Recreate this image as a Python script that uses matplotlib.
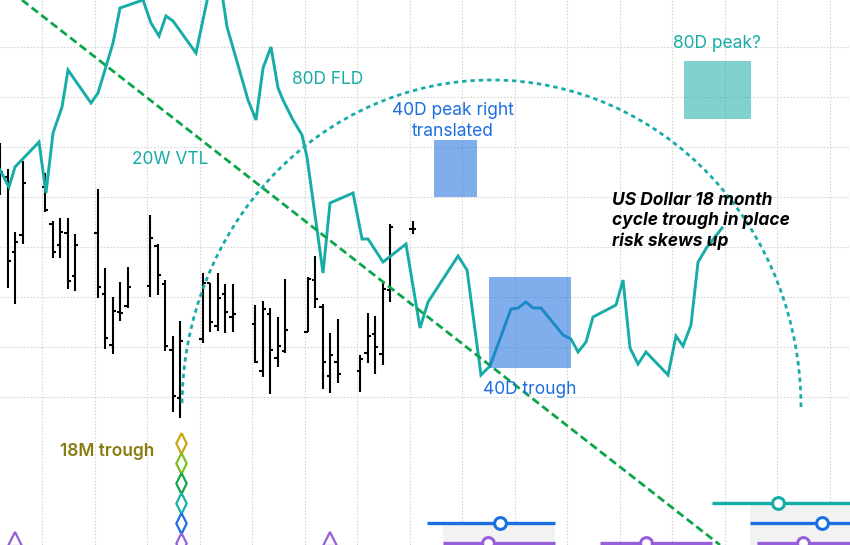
import numpy as np
import matplotlib
matplotlib.use("Agg")
import matplotlib.pyplot as plt
from matplotlib.patches import Arc, Rectangle

plt.rcParams['font.family'] = ['Inter', 'DejaVu Sans']

# --- daily OHLC bars (x = calendar day index) ---
bar_day = [0, 1, 2, 3, 6, 7, 8, 9, 10, 13, 14, 15, 16, 17, 20, 21, 22, 23, 24,
           27, 28, 29, 30, 31, 34, 35, 36, 37, 38, 41, 42, 43, 44, 45, 48, 49, 50, 51, 52, 55]
bar_open = [100.27, 100.20, 99.45, 99.62, 100.10, 99.73, 99.52, 99.64, 99.21, 99.64, 99.03, 98.52, 98.85, 98.91,
            99.11, 99.51, 99.13, 98.47, 97.99, 98.58, 99.14, 98.71, 99.03, 98.80, 98.73, 98.26, 98.83, 98.39,
            98.46, 98.65, 99.17, 98.90, 98.21, 98.35, 98.26, 98.44, 98.63, 98.43, 99.07, 99.68]
bar_high = [100.54, 100.28, 99.65, 100.36, 100.24, 99.76, 99.79, 99.79, 99.63, 100.08, 99.29, 99.00, 99.15, 99.30,
            99.82, 99.53, 99.17, 98.61, 98.76, 99.24, 99.14, 99.24, 99.13, 99.13, 98.92, 98.96, 98.89, 98.80,
            99.18, 99.20, 99.41, 98.93, 98.64, 98.78, 98.42, 98.84, 98.81, 99.14, 99.73, 99.76]
bar_low = [100.02, 99.09, 98.93, 99.53, 99.85, 99.39, 99.39, 99.08, 99.06, 98.99, 98.48, 98.43, 98.76, 98.89,
           99.00, 99.02, 98.46, 97.85, 97.79, 98.54, 98.65, 98.66, 98.64, 98.65, 98.34, 98.20, 98.03, 98.30,
           98.44, 98.65, 98.89, 98.08, 98.04, 98.14, 98.05, 98.34, 98.23, 98.32, 98.95, 99.63]
bar_close = [100.25, 99.36, 99.55, 100.14, 99.87, 99.45, 99.65, 99.16, 99.52, 99.10, 98.59, 98.86, 98.84, 99.10,
             99.59, 99.22, 98.51, 98.01, 98.56, 99.14, 98.75, 98.99, 98.85, 98.83, 98.35, 98.88, 98.47, 98.51,
             98.67, 99.18, 98.98, 98.35, 98.42, 98.23, 98.38, 98.61, 98.50, 99.08, 99.70, 99.68]

# --- 80D FLD line ---
fld_day = [0, 1.2, 2.0, 5.2, 6.13, 7.07, 8.27, 9.07, 12.13, 13.07, 15.07, 16.0, 19.07, 20.13, 21.2, 22.13,
           23.07, 26.13, 28.47, 29.73, 30.27, 33.07, 34.13, 35.07, 36.13, 37.07, 37.73, 39.07, 40.27, 40.93,
           43.07, 44.0, 47.07, 48.27, 49.07, 51.07, 54.13, 56.0, 57.07, 61.07, 62.27, 64.13, 65.33, 68.13,
           69.07, 70.13, 71.07, 72.13, 75.07, 76.13, 77.07, 78.13, 79.07, 82.13, 83.07, 84.0, 85.07, 86.13,
           89.07, 90.13, 91.07, 92.13, 93.07, 94.27, 96.27]
fld_val = [100.27, 100.10, 100.30, 100.55, 100.04, 100.64, 100.90, 101.27, 100.94, 101.04, 101.54, 101.89,
           101.97, 101.74, 101.61, 101.81, 101.76, 101.44, 102.27, 101.97, 101.70, 100.97, 100.77, 101.29,
           101.50, 101.09, 100.97, 100.77, 100.62, 100.40, 99.24, 99.94, 100.04, 99.58, 99.58, 99.35, 99.53,
           98.69, 98.95, 99.41, 99.27, 98.22, 98.31, 98.88, 98.89, 98.95, 98.89, 98.89, 98.62, 98.58, 98.45,
           98.55, 98.80, 98.92, 99.17, 98.49, 98.33, 98.45, 98.22, 98.61, 98.51, 98.72, 99.35, 99.50, 99.69]

# --- 20W VTL (two anchor points) ---
vtl_day = [2.93, 96.0]
vtl_val = [101.97, 96.52]

# --- 40D arc ---
arc_center = (65.53, 97.90)
arc_span_days = 82.53
arc_height = 6.54

# --- highlight boxes: (day0, day1, low, high) ---
peak_box = (57.87, 63.6, 100.0, 100.57)
trough_box = (65.2, 76.13, 98.29, 99.20)
peak80_box = (91.2, 100.13, 100.78, 101.36)

# --- bottom cycle markers ---
diamond_day = 24.09
diamond_vals = [97.54, 97.34, 97.14, 96.94, 96.74, 96.54]
diamond_cols = ['#c9a50c', '#7dc01f', '#11a64b', '#14b1aa', '#1a6fe2', '#965fd9']
tri_days = [2.0, 44.0]
tri_val = 96.58

# range lines: (start, end, level, marker day, colour)
ranges = [
    (56.93, 74.0, 96.74, 66.67, '#1a6fe2'),
    (59.07, 74.0, 96.54, 65.07, '#965fd9'),
    (80.0, 94.93, 96.54, 86.13, '#965fd9'),
    (94.93, 114.0, 96.94, 103.73, '#14ada8'),
    (100.0, 114.0, 96.74, 109.6, '#1a6fe2'),
    (100.93, 114.0, 96.54, 107.07, '#965fd9'),
]
shade_boxes = [(59.07, 74.0, 96.72), (100.0, 114.0, 96.92)]

teal = '#17aca7'
blue = '#1d6fe0'
diamond = [(0, 1), (0.5, 0), (0, -1), (-0.5, 0), (0, 1)]

fig = plt.figure(figsize=(8.5, 5.45), dpi=100)
ax = fig.add_axes([0, 0, 1, 1])
ax.set_xlim(0, 113.33)
ax.set_ylim(96.52, 101.97)
ax.axis('off')

# grid
for gx in np.arange(5.6, 113, 7):
    ax.axvline(gx, color='#d6d6d6', lw=0.8, ls=(0, (1.5, 1.5)), zorder=0)
for gy in np.arange(98.0, 102.0, 0.5):
    ax.axhline(gy, color='#d6d6d6', lw=0.8, ls=(0, (1.5, 1.5)), zorder=0)

# shaded grey areas at the bottom
for x0, x1, top in shade_boxes:
    ax.add_patch(Rectangle((x0, 96.40), x1 - x0, top - 96.40, color='#f2f2f2', lw=0, zorder=1))

# OHLC bars
tick = 0.42
ax.vlines(bar_day, bar_low, bar_high, color='black', lw=1.5, zorder=3)
ax.hlines(bar_open, np.array(bar_day) - tick, bar_day, color='black', lw=1.5, zorder=3)
ax.hlines(bar_close, bar_day, np.array(bar_day) + tick, color='black', lw=1.5, zorder=3)

# FLD
ax.plot(fld_day, fld_val, color=teal, lw=2.1, zorder=4, solid_joinstyle='miter')

# VTL
ax.axline((vtl_day[0], vtl_val[0]), (vtl_day[1], vtl_val[1]), color='#0ca64a', lw=2.0,
          ls=(0, (2.9, 1.5)), zorder=5)

# arc
ax.add_patch(Arc(arc_center, arc_span_days, arc_height, theta1=0, theta2=180,
                 color=teal, lw=2.0, ls=(0, (1.6, 1.4)), zorder=5))

# boxes
for (x0, x1, lo, hi), c, a in [(peak_box, blue, 0.56), (trough_box, blue, 0.56), (peak80_box, teal, 0.54)]:
    ax.add_patch(Rectangle((x0, lo), x1 - x0, hi - lo, color=c, alpha=a, lw=0, zorder=6))

# cycle markers
for v, c in zip(diamond_vals, diamond_cols):
    ax.plot(diamond_day, v, marker=diamond, ms=15, mfc='none', mec=c, mew=1.6, zorder=7)
ax.plot(tri_days, [tri_val] * len(tri_days), ls='none', marker='^', ms=10, mfc='none',
        mec='#965fd9', mew=1.6, zorder=7)
for x0, x1, lvl, xm, c in ranges:
    ax.plot([x0, x1], [lvl, lvl], color=c, lw=2.4, zorder=7, solid_capstyle='butt')
    ax.plot(xm, lvl, marker='o', ms=8.5, mfc='white', mec=c, mew=2.2, zorder=8)

# labels
fs = 12.5
ax.text(43.73, 101.18, '80D FLD', color=teal, fontsize=fs, ha='center', va='center', zorder=9)
ax.text(22.67, 100.38, '20W VTL', color=teal, fontsize=fs, ha='center', va='center', zorder=9)
ax.text(60.33, 100.76, '40D peak right\ntranslated', color=blue, fontsize=fs, ha='center', va='center',
        linespacing=1.25, zorder=9)
ax.text(70.67, 98.07, '40D trough', color=blue, fontsize=fs, ha='center', va='center', zorder=9)
ax.text(95.6, 101.53, '80D peak?', color=teal, fontsize=fs, ha='center', va='center', zorder=9)
ax.text(14.27, 97.46, '18M trough', color='#8a7c12', fontsize=fs, fontweight='semibold',
        ha='center', va='center', zorder=9)
ax.text(81.6, 100.05, 'US Dollar 18 month\ncycle trough in place\nrisk skews up', color='black',
        fontsize=fs, fontweight='bold', fontstyle='italic', ha='left', va='top', linespacing=1.22, zorder=9)

fig.savefig('out.png', dpi=100, facecolor='white')
